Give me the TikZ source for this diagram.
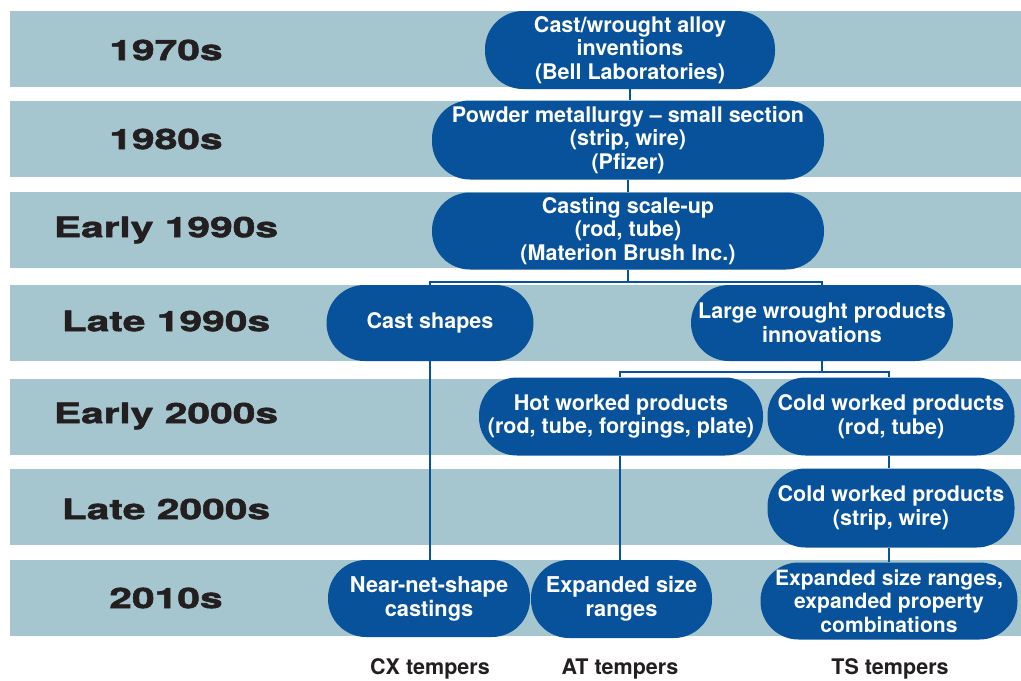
\documentclass[tikz,border=0pt]{standalone}
\usepackage{fontspec}
\setmainfont{TeX Gyre Heros}
\newfontfamily\yearfont[FakeStretch=1.45,FakeBold=2]{TeX Gyre Heros}
\usetikzlibrary{calc}
\definecolor{band}{HTML}{A6C6CF}
\definecolor{navy}{HTML}{07529B}
\definecolor{ink}{HTML}{231F20}
\def\band(#1:#2){\fill[band] (10, #1) rectangle (1021, #2);}
\tikzset{
	box/.style={fill=navy, text=white, rounded corners=0.95cm, inner sep=0pt, align=center, font=\bfseries\fontsize{15.3}{16.8}\selectfont},
	narrowbox/.style={box, font=\bfseries\fontsize{15.5}{17}\selectfont},
	boxsize/.style 2 args={minimum width={#1*0.025cm}, minimum height={#2*0.025cm}},
	year/.style={text=ink, font=\yearfont\bfseries\fontsize{20}{20}\selectfont},
	temper/.style={text=ink, font=\bfseries\fontsize{15.3}{15.3}\selectfont},
	link/.style={draw=navy, line width=0.05cm}
}

\begin{document}
\begin{tikzpicture}[x=0.025cm, y=-0.025cm]
			%%%%% START %%%%%
			\useasboundingbox (0, 0) rectangle (1021, 680);
			
			\band(11:87)
			\band(101:177)
			\band(192:268)
			\band(285:361)
			\band(379:455)
			\band(469:545)
			\band(560:636)
			
			\node[year] (y1) at (166, 50) {1970s};
			\node[year] (y2) at (166, 139) {1980s};
			\node[year] (y3) at (166, 230) {Early 1990s};
			\node[year] (y4) at (166, 321) {Late 1990s};
			\node[year] (y5) at (166, 416) {Early 2000s};
			\node[year] (y6) at (166, 509) {Late 2000s};
			\node[year] (y7) at (166, 598) {2010s};
			
			\node[box, boxsize={290}{78}] (bell) at (630, 50) {Cast/wrought alloy\\inventions\\(Bell Laboratories)};
			\node[box, boxsize={392}{79}] (pfizer) at (628, 140) {Powder metallurgy -- small section\\(strip, wire)\\(Pfizer)};
			\node[box, boxsize={392}{77}] (brush) at (628, 231) {Casting scale-up\\(rod, tube)\\(Materion Brush Inc.)};
			
			\node[box, boxsize={207}{76}] (cast) at (430, 323) {Cast shapes};
			\node[box, boxsize={262}{76}] (large) at (822, 323) {Large wrought products\\innovations};
			
			\node[box, boxsize={284}{78}] (hot) at (621, 416.5) {Hot worked products\\(rod, tube, forgings, plate)};
			\node[box, boxsize={247}{78}] (coldrod) at (891, 416.5) {Cold worked products\\(rod, tube)};
			\node[box, boxsize={247}{79}] (coldstrip) at (891, 508) {Cold worked products\\(strip, wire)};
			
			\node[narrowbox, boxsize={202}{77}] (near) at (429, 598.5) {Near-net-shape\\castings};
			\node[narrowbox, boxsize={181}{78}] (sizes) at (621.5, 599) {Expanded size\\ranges};
			\node[box, boxsize={257}{77}, font=\bfseries\fontsize{15}{16.8}\selectfont] (props) at (889, 601) {Expanded size ranges,\\expanded property\\combinations};
			
			\node[temper] (cx) at (430, 669) {CX tempers};
			\node[temper] (at) at (620, 669) {AT tempers};
			\node[temper] (ts) at (890, 669) {TS tempers};
			
			\draw[link] (bell.south) -- (bell.south |- pfizer.north);
			\draw[link] (pfizer.south) -- (pfizer.south |- brush.north);
			\draw[link] (brush.south) -- ++(0, 12) coordinate (bus1);
			\draw[link] (cast.north) |- (bus1) -| (large.north);
			\draw[link] (large.south) -- ++(0, 11) coordinate (bus2);
			\draw[link] (hot.north -| 620, 0) |- (bus2) -| (coldrod.north -| 889, 0);
			\draw[link] (cast.south) -- (near.north -| cast.south);
			\draw[link] (hot.south -| 620, 0) -- (sizes.north -| 620, 0);
			\draw[link] (coldrod.south -| 889, 0) -- (coldstrip.north -| 889, 0);
			\draw[link] (coldstrip.south -| 889, 0) -- (props.north -| 889, 0);
			
			%%%%% END %%%%%
		\end{tikzpicture}
\end{document}
